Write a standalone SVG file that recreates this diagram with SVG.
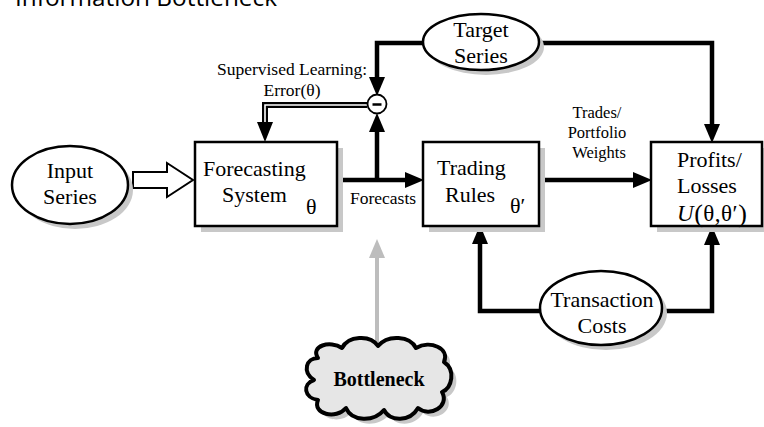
<svg xmlns="http://www.w3.org/2000/svg" width="764" height="427" viewBox="0 0 764 427">
<defs>
<style>
.t{font-family:"Liberation Serif","Times New Roman",serif;fill:#000}
.big{font-size:22px}
.sm{font-size:17.5px}
.box{fill:#fff;stroke:#000;stroke-width:2.5}
.sh{fill:#c8c8c8;stroke:none}
.ell{fill:#fff;stroke:#000;stroke-width:2.5}
.con{fill:none;stroke:#000;stroke-width:4.5}
</style>
<marker id="ah" markerUnits="userSpaceOnUse" markerWidth="20" markerHeight="16" refX="8" refY="8" orient="auto" viewBox="0 0 20 16">
<path d="M0,0 L19,8 L0,16 z" fill="#000"/>
</marker>
<marker id="ahg" markerUnits="userSpaceOnUse" markerWidth="20" markerHeight="16" refX="8" refY="8" orient="auto" viewBox="0 0 20 16">
<path d="M0,0 L19,8 L0,16 z" fill="#bdbdbd"/>
</marker>
</defs>
<rect width="764" height="427" fill="#fff"/>

<text x="15" y="6" font-family="Open Sans, Liberation Sans, sans-serif" font-size="24" textLength="262" lengthAdjust="spacingAndGlyphs" fill="#000">Information Bottleneck</text>

<g id="connectors">
<path class="con" d="M423,43 H377 V85" marker-end="url(#ah)"/>
<path class="con" d="M539,43 H712 V132" marker-end="url(#ah)"/>
<path class="con" d="M337,180 H413" marker-end="url(#ah)"/>
<path class="con" d="M377,180 V124" marker-end="url(#ah)"/>
<path class="con" d="M539,180 H641" marker-end="url(#ah)"/>
<path class="con" d="M540,311 H480 V236" marker-end="url(#ah)"/>
<path class="con" d="M662,311 H712 V237" marker-end="url(#ah)"/>
<path d="M367,105 H265 V124" fill="none" stroke="#000" stroke-width="6"/>
<path d="M367,105 H265 V124" fill="none" stroke="#fff" stroke-width="1.6"/>
<polygon points="257,122 273,122 265,142" fill="#000"/>
<polygon points="133,172 167,172 167,163 193,180 167,197 167,188 133,188" fill="#fff" stroke="#000" stroke-width="2"/>
<path d="M377,345 V250" fill="none" stroke="#bdbdbd" stroke-width="4" marker-end="url(#ahg)"/>
</g>

<g id="minus">
<circle cx="377" cy="104" r="9.5" fill="#fff" stroke="#000" stroke-width="1.8"/>
<line x1="372.5" y1="104.5" x2="381.5" y2="104.5" stroke="#000" stroke-width="2.5"/>
</g>

<g id="supervised">
<text class="t sm" x="292" y="75" text-anchor="middle">Supervised Learning:</text>
<text class="t sm" x="292" y="96" text-anchor="middle">Error(θ)</text>
</g>

<g id="input">
<ellipse class="sh" cx="75" cy="190" rx="58" ry="39"/>
<ellipse class="ell" cx="70" cy="185" rx="58" ry="39"/>
<text class="t big" x="70" y="178" text-anchor="middle">Input</text>
<text class="t big" x="70" y="204" text-anchor="middle">Series</text>
</g>

<g id="forecasting">
<rect class="sh" x="201" y="148" width="142" height="84"/>
<rect class="box" x="195" y="142" width="142" height="84"/>
<text class="t big" x="203" y="176">Forecasting</text>
<text class="t big" x="222" y="202">System</text>
<text class="t big" x="306" y="214">θ</text>
</g>

<text class="t sm" x="350" y="204">Forecasts</text>

<g id="trading">
<rect class="sh" x="429" y="148" width="116" height="84"/>
<rect class="box" x="423" y="142" width="116" height="84"/>
<text class="t big" x="437" y="175">Trading</text>
<text class="t big" x="445" y="202">Rules</text>
<text class="t big" x="510" y="213">θ′</text>
</g>

<g id="trades-label">
<text class="t" font-size="16.5" x="597" y="118" text-anchor="middle">Trades/</text>
<text class="t" font-size="16.5" x="597" y="138" text-anchor="middle">Portfolio</text>
<text class="t" font-size="16.5" x="599" y="158" text-anchor="middle">Weights</text>
</g>

<g id="profits">
<rect class="sh" x="657" y="148" width="111" height="84"/>
<rect class="box" x="651" y="142" width="111" height="84"/>
<text class="t big" x="677" y="167">Profits/</text>
<text class="t big" x="677" y="193">Losses</text>
<text class="t" font-size="23" x="677" y="221" letter-spacing="0.5"><tspan font-style="italic">U</tspan><tspan font-size="26" dy="1">(</tspan><tspan dy="-1">θ,θ′</tspan><tspan font-size="26" dy="1">)</tspan></text>
</g>

<g id="target">
<ellipse class="sh" cx="486" cy="47" rx="58" ry="28"/>
<ellipse class="ell" cx="481" cy="42" rx="58" ry="28"/>
<text class="t big" x="481" y="37" text-anchor="middle">Target</text>
<text class="t big" x="481" y="63" text-anchor="middle">Series</text>
</g>

<g id="transaction">
<ellipse class="sh" cx="606" cy="313" rx="61" ry="37"/>
<ellipse class="ell" cx="601" cy="308" rx="61" ry="37"/>
<text class="t big" x="602" y="307" text-anchor="middle">Transaction</text>
<text class="t big" x="602" y="333" text-anchor="middle">Costs</text>
</g>

<g id="bottleneck">
<path class="sh" transform="translate(5,5)" d="M318,358 C310,346 330,340 342,348 C348,336 370,334 378,346 C388,334 410,336 416,348 C430,340 450,348 444,362 C456,370 452,388 442,392 C450,406 430,418 418,408 C410,422 390,422 384,410 C374,422 352,422 346,408 C336,420 312,414 318,400 C304,398 302,384 314,380 C302,372 306,358 318,358 Z"/>
<path d="M318,358 C310,346 330,340 342,348 C348,336 370,334 378,346 C388,334 410,336 416,348 C430,340 450,348 444,362 C456,370 452,388 442,392 C450,406 430,418 418,408 C410,422 390,422 384,410 C374,422 352,422 346,408 C336,420 312,414 318,400 C304,398 302,384 314,380 C302,372 306,358 318,358 Z" fill="#e6e6e6" stroke="#000" stroke-width="4" stroke-linejoin="round"/>
<text class="t" x="379" y="386" text-anchor="middle" font-size="20" font-weight="bold">Bottleneck</text>
</g>
</svg>
